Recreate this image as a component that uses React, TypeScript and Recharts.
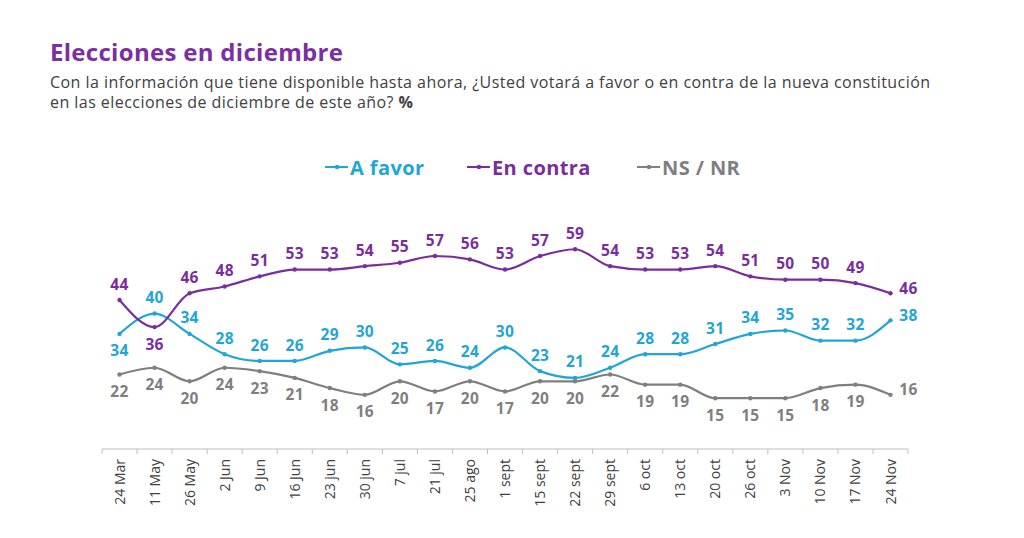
import { LabelList, Line, LineChart, XAxis, YAxis } from 'recharts';

const fechas = [
  '24 Mar', '11 May', '26 May', '2 Jun', '9 Jun', '16 Jun', '23 jun', '30 jun', '7 jul', '21 jul', '25 ago',
  '1 sept', '15 sept', '22 sept', '29 sept', '6 oct', '13 oct', '20 oct', '26 oct', '3 Nov', '10 Nov', '17 Nov', '24 Nov',
];
const aFavor = [34, 40, 34, 28, 26, 26, 29, 30, 25, 26, 24, 30, 23, 21, 24, 28, 28, 31, 34, 35, 32, 32, 38];
const enContra = [44, 36, 46, 48, 51, 53, 53, 54, 55, 57, 56, 53, 57, 59, 54, 53, 53, 54, 51, 50, 50, 49, 46];
const nsNr = [22, 24, 20, 24, 23, 21, 18, 16, 20, 17, 20, 17, 20, 20, 22, 19, 19, 15, 15, 15, 18, 19, 16];

const data = fechas.map((fecha, i) => ({
  fecha,
  aFavor: aFavor[i],
  enContra: enContra[i],
  nsNr: nsNr[i],
}));

const FONT = '"Open Sans", sans-serif';
const AZUL = '#1fa6d6';
const MORADO = '#7a2e9e';
const GRIS = '#7f7f7f';
const HALF_STEP = 17.5;

const series = [
  { key: 'aFavor', name: 'A favor', color: AZUL, left: 325 },
  { key: 'enContra', name: 'En contra', color: MORADO, left: 467 },
  { key: 'nsNr', name: 'NS / NR', color: GRIS, left: 637 },
];

// value labels: above the point by default, right of the last point
function makeLabel(color: string, below: (i: number) => boolean) {
  return (props: any) => {
    const { x, y, value, index } = props;
    const last = index === fechas.length - 1;
    let tx = x;
    let ty = below(index) ? y + 17 : y - 16;
    if (last) {
      tx = x + 18;
      ty = y - 5;
    }
    return (
      <text
        x={tx}
        y={ty}
        dy="0.36em"
        textAnchor="middle"
        fill={color}
        fontFamily={FONT}
        fontWeight={700}
        fontSize={15.5}
        letterSpacing={0.3}
      >
        {value}
      </text>
    );
  };
}

function FechaTick(props: any) {
  const { x, y, payload, index } = props;
  const isLast = index === fechas.length - 1;
  return (
    <g>
      <line x1={x - HALF_STEP} y1={y} x2={x - HALF_STEP} y2={y + 5} stroke="#bfbfbf" />
      {isLast && <line x1={x + HALF_STEP} y1={y} x2={x + HALF_STEP} y2={y + 5} stroke="#bfbfbf" />}
      <text
        x={x}
        y={y + 10}
        dy="0.36em"
        transform={`rotate(-90, ${x}, ${y + 10})`}
        textAnchor="end"
        fill="#404040"
        fontFamily={FONT}
        fontSize={14}
      >
        {payload.value}
      </text>
    </g>
  );
}

export default function App() {
  return (
    <div style={{ position: 'absolute', left: 0, top: 0, width: 1024, height: 538, background: '#fff', fontFamily: FONT }}>
      <div style={{ position: 'absolute', left: 50, top: 35, fontSize: 24, letterSpacing: 0.3, fontWeight: 700, color: '#7b2fa3' }}>
        Elecciones en diciembre
      </div>
      <div
        style={{
          position: 'absolute',
          left: 50,
          top: 73,
          fontSize: 16,
          letterSpacing: 0.45,
          lineHeight: '19.5px',
          color: '#404040',
          width: 970,
          whiteSpace: 'nowrap',
        }}
      >
        Con la información que tiene disponible hasta ahora, ¿Usted votará a favor o en contra de la nueva constitución
        <br />
        en las elecciones de diciembre de este año? <b>%</b>
      </div>
      {series.map((s) => (
        <div
          key={s.key}
          style={{ position: 'absolute', left: s.left, top: 153, height: 28, display: 'flex', alignItems: 'center' }}
        >
          <svg width={23} height={10} style={{ marginRight: 2 }}>
            <line x1={0} y1={5} x2={23} y2={5} stroke={s.color} strokeWidth={2} />
            <circle cx={12} cy={5} r={2.2} fill={s.color} />
          </svg>
          <span style={{ color: s.color, fontWeight: 700, fontSize: 20, letterSpacing: 0.4 }}>{s.name}</span>
        </div>
      ))}
      <LineChart
        width={1024}
        height={538}
        data={data}
        margin={{ top: 212, right: 116, bottom: 9, left: 102 }}
        style={{ position: 'absolute', left: 0, top: 0 }}
      >
        <XAxis
          dataKey="fecha"
          interval={0}
          height={80}
          padding={{ left: HALF_STEP, right: HALF_STEP }}
          axisLine={{ stroke: '#bfbfbf' }}
          tickLine={false}
          tickSize={0}
          tickMargin={0}
          tick={<FechaTick />}
        />
        <YAxis hide domain={[0, 70]} />
        <Line
          type="monotone"
          dataKey="aFavor"
          name="A favor"
          stroke={AZUL}
          strokeWidth={2.2}
          dot={{ r: 2.2, fill: AZUL, stroke: AZUL, strokeWidth: 0 }}
          isAnimationActive={false}
        >
          <LabelList dataKey="aFavor" content={makeLabel(AZUL, (i) => i === 0)} />
        </Line>
        <Line
          type="monotone"
          dataKey="enContra"
          name="En contra"
          stroke={MORADO}
          strokeWidth={2.2}
          dot={{ r: 2.2, fill: MORADO, stroke: MORADO, strokeWidth: 0 }}
          isAnimationActive={false}
        >
          <LabelList dataKey="enContra" content={makeLabel(MORADO, (i) => i === 1)} />
        </Line>
        <Line
          type="monotone"
          dataKey="nsNr"
          name="NS / NR"
          stroke={GRIS}
          strokeWidth={2.2}
          dot={{ r: 2.2, fill: GRIS, stroke: GRIS, strokeWidth: 0 }}
          isAnimationActive={false}
        >
          <LabelList dataKey="nsNr" content={makeLabel(GRIS, () => true)} />
        </Line>
      </LineChart>
    </div>
  );
}
